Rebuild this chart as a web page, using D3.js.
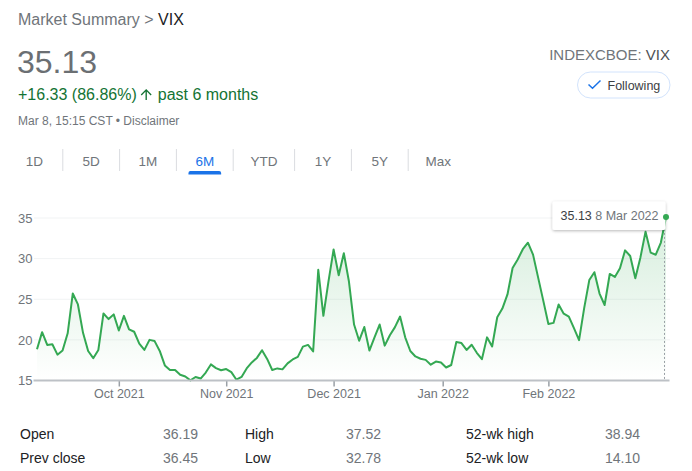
<!DOCTYPE html>
<html>
<head>
<meta charset="utf-8">
<script src="https://cdn.jsdelivr.net/npm/d3@7"></script>
<style>
  html, body { margin: 0; padding: 0; background: #fff; }
  svg { display: block; font-family: "Liberation Sans", Arial, sans-serif; }
</style>
</head>
<body>
<svg id="chart" width="692" height="471"></svg>
<script>
// ---------------- DATA ----------------
const tradingDates = [
  "2021-09-09","2021-09-10","2021-09-13","2021-09-14","2021-09-15","2021-09-16","2021-09-17","2021-09-20",
  "2021-09-21","2021-09-22","2021-09-23","2021-09-24","2021-09-27","2021-09-28","2021-09-29","2021-09-30",
  "2021-10-01","2021-10-04","2021-10-05","2021-10-06","2021-10-07","2021-10-08","2021-10-11","2021-10-12",
  "2021-10-13","2021-10-14","2021-10-15","2021-10-18","2021-10-19","2021-10-20","2021-10-21","2021-10-22",
  "2021-10-25","2021-10-26","2021-10-27","2021-10-28","2021-10-29",
  "2021-11-01","2021-11-02","2021-11-03","2021-11-04","2021-11-05","2021-11-08","2021-11-09","2021-11-10",
  "2021-11-11","2021-11-12","2021-11-15","2021-11-16","2021-11-17","2021-11-18","2021-11-19","2021-11-22",
  "2021-11-23","2021-11-24","2021-11-26","2021-11-29","2021-11-30",
  "2021-12-01","2021-12-02","2021-12-03","2021-12-06","2021-12-07","2021-12-08","2021-12-09","2021-12-10",
  "2021-12-13","2021-12-14","2021-12-15","2021-12-16","2021-12-17","2021-12-20","2021-12-21","2021-12-22",
  "2021-12-23","2021-12-27","2021-12-28","2021-12-29","2021-12-30","2021-12-31",
  "2022-01-03","2022-01-04","2022-01-05","2022-01-06","2022-01-07","2022-01-10","2022-01-11","2022-01-12",
  "2022-01-13","2022-01-14","2022-01-18","2022-01-19","2022-01-20","2022-01-21","2022-01-24","2022-01-25",
  "2022-01-26","2022-01-27","2022-01-28","2022-01-31",
  "2022-02-01","2022-02-02","2022-02-03","2022-02-04","2022-02-07","2022-02-08","2022-02-09","2022-02-10",
  "2022-02-11","2022-02-14","2022-02-15","2022-02-16","2022-02-17","2022-02-18","2022-02-22","2022-02-23",
  "2022-02-24","2022-02-25","2022-02-28",
  "2022-03-01","2022-03-02","2022-03-03","2022-03-04","2022-03-08"
];
const vixValues = [
  18.85,20.95,19.37,19.46,18.18,18.69,20.81,25.71,
  24.36,20.87,18.63,17.75,18.76,23.25,22.56,23.14,
  21.15,22.96,21.30,21.00,19.54,18.77,20.00,19.85,
  18.64,16.86,16.30,16.30,15.70,15.49,15.01,15.43,
  15.24,15.98,16.98,16.53,16.26,
  16.41,16.03,15.10,15.44,16.48,17.22,17.78,18.73,
  17.66,16.29,16.49,16.37,17.11,17.59,17.91,19.17,
  19.38,18.58,28.62,22.96,27.19,
  31.12,27.95,30.67,27.18,21.89,19.90,21.58,18.69,
  20.31,21.89,19.29,20.57,21.57,22.87,20.31,18.63,
  17.96,17.68,17.54,16.95,17.33,17.22,
  16.60,16.91,19.73,19.61,18.76,19.40,18.41,17.62,
  20.31,19.19,22.79,23.85,25.59,28.85,29.90,31.16,
  31.96,30.49,27.66,24.83,
  21.96,22.09,24.35,23.22,22.86,21.44,19.96,23.91,
  27.36,28.33,25.70,24.29,28.11,27.75,28.81,31.02,
  30.32,27.59,30.15,
  33.32,30.74,30.48,31.98,35.13
];
const yTicks = [15, 20, 25, 30, 35];
const xTickDates = ["2021-10-01","2021-11-01","2021-12-01","2022-01-01","2022-02-01"];
const xTickLabels = ["Oct 2021","Nov 2021","Dec 2021","Jan 2022","Feb 2022"];
const rangeTabs = ["1D","5D","1M","6M","YTD","1Y","5Y","Max"];
const activeTab = "6M";
const statLabels = [["Open","High","52-wk high"],["Prev close","Low","52-wk low"]];
const statValues = [["36.19","37.52","38.94"],["36.45","32.78","14.10"]];
const lastPrice = "35.13";
const changeText = "+16.33 (86.86%)";
const periodText = "past 6 months";
const tooltipDate = "8 Mar 2022";

// ---------------- DRAW ----------------
const svg = d3.select("#chart");
const parse = d3.timeParse("%Y-%m-%d");
const dates = tradingDates.map(parse);
const data = dates.map((d, i) => ({ date: d, value: vixValues[i], i }));

const GREY = "#70757a", DARK = "#202124", GREEN = "#137333", BLUE = "#1a73e8", LINE = "#34a853";

// Header
const h1 = svg.append("text").attr("x", 18).attr("y", 25).attr("font-size", 16);
h1.append("tspan").attr("fill", GREY).text("Market Summary > ");
h1.append("tspan").attr("fill", DARK).text("VIX");

svg.append("text").attr("x", 17).attr("y", 73).attr("font-size", 32).attr("fill", "#6b6f73").text(lastPrice);

const ch = svg.append("text").attr("x", 18).attr("y", 100).attr("font-size", 16).attr("fill", GREEN).text(changeText);
const chW = ch.node().getComputedTextLength();
svg.append("path")
  .attr("d", "M4 12l1.41 1.41L11 7.83V20h2V7.83l5.58 5.59L20 12l-8-8-8 8z")
  .attr("fill", GREEN)
  .attr("transform", `translate(${18 + chW + 4 - 4 * 0.68},${86.3}) scale(0.68)`);
svg.append("text").attr("x", 18 + chW + 21).attr("y", 100).attr("font-size", 16).attr("fill", GREEN).text(periodText);

svg.append("text").attr("x", 18).attr("y", 125).attr("font-size", 12).attr("fill", GREY)
  .text("Mar 8, 15:15 CST \u2022 Disclaimer");

const idx = svg.append("text").attr("x", 670).attr("y", 60).attr("font-size", 15).attr("text-anchor", "end");
idx.append("tspan").attr("fill", GREY).text("INDEXCBOE: ");
idx.append("tspan").attr("fill", "#4d5156").text("VIX");

// Following button
svg.append("rect").attr("x", 577.5).attr("y", 72).attr("width", 92.5).attr("height", 26).attr("rx", 13)
  .attr("fill", "#fff").attr("stroke", "#d2e3fc").attr("stroke-width", 1);
svg.append("path").attr("d", "M588.5 84.5 L592.5 88.3 L600.5 80.5").attr("fill", "none")
  .attr("stroke", BLUE).attr("stroke-width", 1.5);
svg.append("text").attr("x", 607.5).attr("y", 89.5).attr("font-size", 12.5).attr("fill", "#3c4043").text("Following");

// Tabs
let tx = 6;
const tabG = svg.append("g");
rangeTabs.forEach((t, k) => {
  const txt = tabG.append("text").attr("y", 165.5).attr("font-size", 13.5)
    .attr("text-anchor", "middle").attr("fill", t === activeTab ? BLUE : GREY).text(t);
  const w = txt.node().getComputedTextLength();
  const tw = Math.max(56.8, w + 34.4);
  txt.attr("x", tx + tw / 2);
  if (t === activeTab) {
    const cx = tx + tw / 2, uw = 32.7;
    tabG.append("path")
      .attr("d", `M${cx - uw / 2} 174.5 v-1.5 a2 2 0 0 1 2 -2 h${uw - 4} a2 2 0 0 1 2 2 v1.5 z`)
      .attr("fill", BLUE);
  }
  if (k < rangeTabs.length - 1) {
    tabG.append("line").attr("x1", tx + tw).attr("x2", tx + tw).attr("y1", 149).attr("y2", 171)
      .attr("stroke", "#dadce0").attr("stroke-width", 1);
  }
  tx += tw;
});

// Scales
const xIdx = d3.scaleLinear().domain([0, data.length - 1]).range([37, 666]);
const x = d3.scaleTime().domain(dates).range(dates.map((d, i) => xIdx(i)));
const y = d3.scaleLinear().domain([15, 35]).range([380.5, 218]);

// Gradient
const defs = svg.append("defs");
const grad = defs.append("linearGradient").attr("id", "fillGrad")
  .attr("gradientUnits", "userSpaceOnUse").attr("x1", 0).attr("x2", 0)
  .attr("y1", y(35)).attr("y2", y(15));
grad.append("stop").attr("offset", 0).attr("stop-color", LINE).attr("stop-opacity", 0.2);
grad.append("stop").attr("offset", 1).attr("stop-color", LINE).attr("stop-opacity", 0);
const sh = defs.append("filter").attr("id", "shadow").attr("x", -0.2).attr("y", -0.4).attr("width", 1.4).attr("height", 1.8);
sh.append("feDropShadow").attr("dx", 0).attr("dy", 1).attr("stdDeviation", 1.5)
  .attr("flood-color", "#000").attr("flood-opacity", 0.28);

// Grid lines
svg.append("g").selectAll("line").data(yTicks.filter(v => v > 15)).join("line")
  .attr("x1", 34).attr("x2", 670).attr("y1", d => y(d)).attr("y2", d => y(d))
  .attr("stroke", "#f1f3f4").attr("stroke-width", 1);

// Y labels
svg.append("g").selectAll("text").data(yTicks).join("text")
  .attr("x", 32.5).attr("y", d => y(d)).attr("dy", "0.36em").attr("text-anchor", "end")
  .attr("font-size", 13).attr("fill", GREY).text(d => d);

// Area + line
const area = d3.area().x(d => x(d.date)).y0(y(15)).y1(d => y(d.value));
svg.append("path").datum(data).attr("d", area).attr("fill", "url(#fillGrad)");
const line = d3.line().x(d => x(d.date)).y(d => y(d.value));
svg.append("path").datum(data).attr("d", line).attr("fill", "none")
  .attr("stroke", LINE).attr("stroke-width", 2).attr("stroke-linejoin", "round");

// X axis
const tickDates = xTickDates.map(parse);
const xAxis = d3.axisBottom(x).tickValues(tickDates).tickSize(6)
  .tickFormat((d, i) => xTickLabels[i]);
const ax = svg.append("g").attr("transform", `translate(0,${y(15)})`).call(xAxis);
ax.select(".domain").remove();
ax.selectAll(".tick line").attr("stroke", "#9aa0a6").attr("stroke-width", 1.5).attr("y1", 0);
ax.selectAll(".tick text").attr("font-size", 12.5).attr("fill", GREY)
  .attr("font-family", "Liberation Sans, Arial, sans-serif").attr("y", 9).attr("dy", "0.71em");
svg.append("line").attr("x1", 33.5).attr("x2", 669.5).attr("y1", y(15)).attr("y2", y(15))
  .attr("stroke", "#bdc1c6").attr("stroke-width", 2);

// Last point marker, dotted line, tooltip
const last = data[data.length - 1];
const lx = x(last.date), ly = y(last.value);
svg.append("line").attr("x1", lx - 1.5).attr("x2", lx - 1.5).attr("y1", ly + 4).attr("y2", y(15))
  .attr("stroke", "#9aa0a6").attr("stroke-width", 1).attr("stroke-dasharray", "2,2");
const tip = svg.append("g");
tip.append("rect").attr("x", lx - 113.5).attr("y", ly - 15.5).attr("width", 113).attr("height", 28.5)
  .attr("rx", 2).attr("fill", "#fff").attr("filter", "url(#shadow)");
tip.append("text").attr("x", lx - 105.5).attr("y", ly + 3).attr("font-size", 12.5).attr("fill", "#3c4043").text(lastPrice);
tip.append("text").attr("x", lx - 7.5).attr("y", ly + 3).attr("font-size", 12.5).attr("text-anchor", "end")
  .attr("fill", GREY).text(tooltipDate);
svg.append("circle").attr("cx", lx).attr("cy", ly).attr("r", 3).attr("fill", LINE);

// Stats table
const labelX = [20, 245, 466], valueX = [163, 346, 605], rowY = [439, 463];
statLabels.forEach((row, r) => row.forEach((t, c) => {
  svg.append("text").attr("x", labelX[c]).attr("y", rowY[r]).attr("font-size", 14).attr("fill", DARK).text(t);
  svg.append("text").attr("x", valueX[c]).attr("y", rowY[r]).attr("font-size", 14).attr("fill", GREY).text(statValues[r][c]);
}));
</script>
</body>
</html>
